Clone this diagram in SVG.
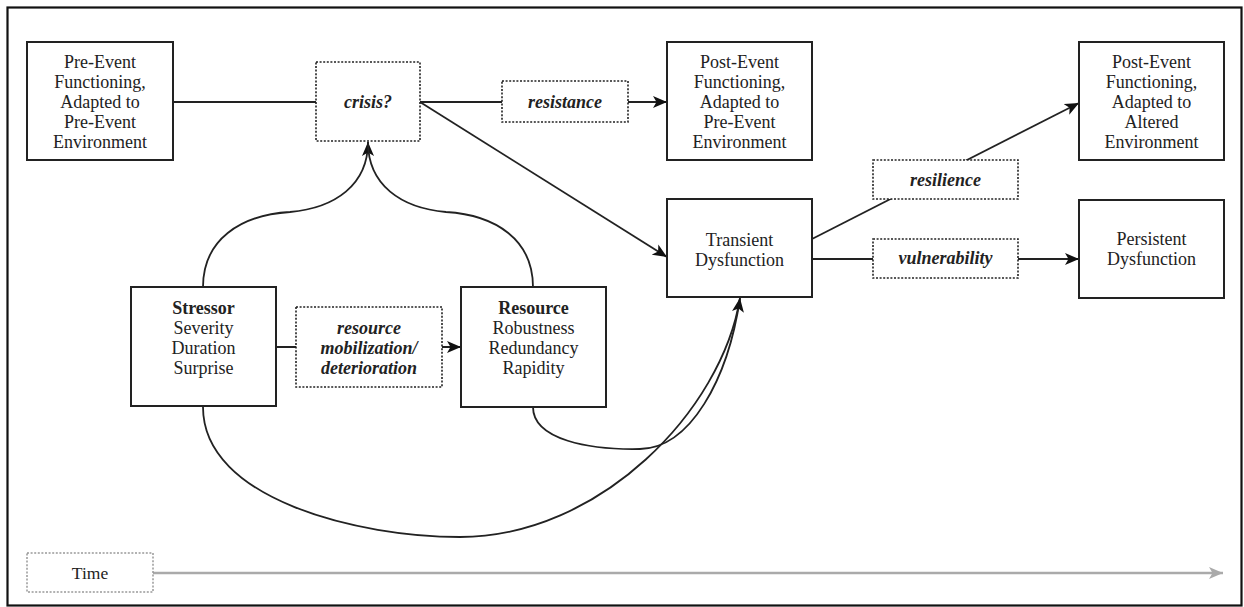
<svg xmlns="http://www.w3.org/2000/svg" width="1244" height="607" viewBox="0 0 1244 607">
<style>
  .box { fill: #fff; stroke: #222; stroke-width: 2; }
  .dot { fill: #fff; stroke: #222; stroke-width: 1.6; stroke-dasharray: 2 1.6; }
  .dotg { fill: #fff; stroke: #999; stroke-width: 1.5; stroke-dasharray: 2 1.6; }
  .t { font-family: "Liberation Serif", "Times New Roman", serif; font-size: 18px; fill: #222; text-anchor: middle; }
  .b { font-weight: bold; }
  .bi { font-weight: bold; font-style: italic; }
  .ln { fill: none; stroke: #222; stroke-width: 1.8; }
  .lng { fill: none; stroke: #aaa; stroke-width: 2.5; }
</style>
<defs>
  <marker id="ah" markerUnits="userSpaceOnUse" markerWidth="15" markerHeight="13" refX="14" refY="6" orient="auto" viewBox="0 0 15 12">
    <path d="M0,0 L14,6 L0,12 L3.5,6 z" fill="#111"/>
  </marker>
  <marker id="ahg" markerUnits="userSpaceOnUse" markerWidth="15" markerHeight="13" refX="14" refY="6" orient="auto" viewBox="0 0 15 12">
    <path d="M0,0 L14,6 L0,12 L3.5,6 z" fill="#aaa"/>
  </marker>
</defs>
<rect x="7.5" y="7.5" width="1234" height="598" fill="#fff" stroke="#111" stroke-width="2.2"/>

<g id="connectors">
  <line class="ln" x1="173" y1="102" x2="316" y2="102"/>
  <line class="ln" x1="420" y1="102" x2="667" y2="102" marker-end="url(#ah)"/>
  <line class="ln" x1="420" y1="102" x2="667" y2="257" marker-end="url(#ah)"/>
  <line class="ln" x1="812" y1="239" x2="1079" y2="103" marker-end="url(#ah)"/>
  <line class="ln" x1="812" y1="259" x2="1079" y2="259" marker-end="url(#ah)"/>
  <line class="ln" x1="276" y1="347" x2="461" y2="347" marker-end="url(#ah)"/>
  <path class="ln" d="M203,287 C203,240 240,215 290,212 C335,208 368,185 368,142" marker-end="url(#ah)"/>
  <path class="ln" d="M533,287 C533,240 496,215 446,212 C401,208 368,185 368,142"/>
  <path class="ln" d="M203,407 C203,500 360,537 460,537 C600,537 722,410 740,298"/>
  <path class="ln" d="M533,407 C533,440 590,450 640,449 C690,448 728,380 740,298" marker-end="url(#ah)"/>
  <line class="lng" x1="153" y1="573" x2="1223" y2="573" marker-end="url(#ahg)"/>
</g>

<g id="pre-event">
  <rect class="box" x="27" y="42" width="146" height="118"/>
  <text class="t" x="100" y="68">Pre-Event</text>
  <text class="t" x="100" y="88">Functioning,</text>
  <text class="t" x="100" y="108">Adapted to</text>
  <text class="t" x="100" y="128">Pre-Event</text>
  <text class="t" x="100" y="148">Environment</text>
</g>
<g id="crisis">
  <rect class="dot" x="316" y="62" width="104" height="79"/>
  <text class="t bi" x="368" y="108">crisis?</text>
</g>
<g id="resistance">
  <rect class="dot" x="502" y="81" width="126" height="41"/>
  <text class="t bi" x="565" y="108">resistance</text>
</g>
<g id="post-event-pre">
  <rect class="box" x="667" y="42" width="145" height="118"/>
  <text class="t" x="739.5" y="68">Post-Event</text>
  <text class="t" x="739.5" y="88">Functioning,</text>
  <text class="t" x="739.5" y="108">Adapted to</text>
  <text class="t" x="739.5" y="128">Pre-Event</text>
  <text class="t" x="739.5" y="148">Environment</text>
</g>
<g id="post-event-altered">
  <rect class="box" x="1079" y="42" width="145" height="118"/>
  <text class="t" x="1151.5" y="68">Post-Event</text>
  <text class="t" x="1151.5" y="88">Functioning,</text>
  <text class="t" x="1151.5" y="108">Adapted to</text>
  <text class="t" x="1151.5" y="128">Altered</text>
  <text class="t" x="1151.5" y="148">Environment</text>
</g>
<g id="resilience">
  <rect class="dot" x="873" y="160" width="145" height="39"/>
  <text class="t bi" x="945.5" y="186">resilience</text>
</g>
<g id="vulnerability">
  <rect class="dot" x="873" y="239" width="145" height="39"/>
  <text class="t bi" x="945.5" y="264">vulnerability</text>
</g>
<g id="transient">
  <rect class="box" x="667" y="199" width="145" height="98"/>
  <text class="t" x="739.5" y="246">Transient</text>
  <text class="t" x="739.5" y="266">Dysfunction</text>
</g>
<g id="persistent">
  <rect class="box" x="1079" y="200" width="145" height="98"/>
  <text class="t" x="1151.5" y="245">Persistent</text>
  <text class="t" x="1151.5" y="265">Dysfunction</text>
</g>
<g id="stressor">
  <rect class="box" x="131" y="287" width="145" height="119"/>
  <text class="t b" x="203.5" y="314">Stressor</text>
  <text class="t" x="203.5" y="334">Severity</text>
  <text class="t" x="203.5" y="354">Duration</text>
  <text class="t" x="203.5" y="374">Surprise</text>
</g>
<g id="mobilization">
  <rect class="dot" x="296" y="307" width="146" height="80"/>
  <text class="t bi" x="369" y="334">resource</text>
  <text class="t bi" x="369" y="354">mobilization/</text>
  <text class="t bi" x="369" y="374">deterioration</text>
</g>
<g id="resource">
  <rect class="box" x="461" y="287" width="145" height="120"/>
  <text class="t b" x="533.5" y="314">Resource</text>
  <text class="t" x="533.5" y="334">Robustness</text>
  <text class="t" x="533.5" y="354">Redundancy</text>
  <text class="t" x="533.5" y="374">Rapidity</text>
</g>
<g id="time">
  <rect class="dotg" x="27" y="553" width="126" height="39"/>
  <text class="t" x="90" y="579" style="font-size:17.5px">Time</text>
</g>
</svg>
